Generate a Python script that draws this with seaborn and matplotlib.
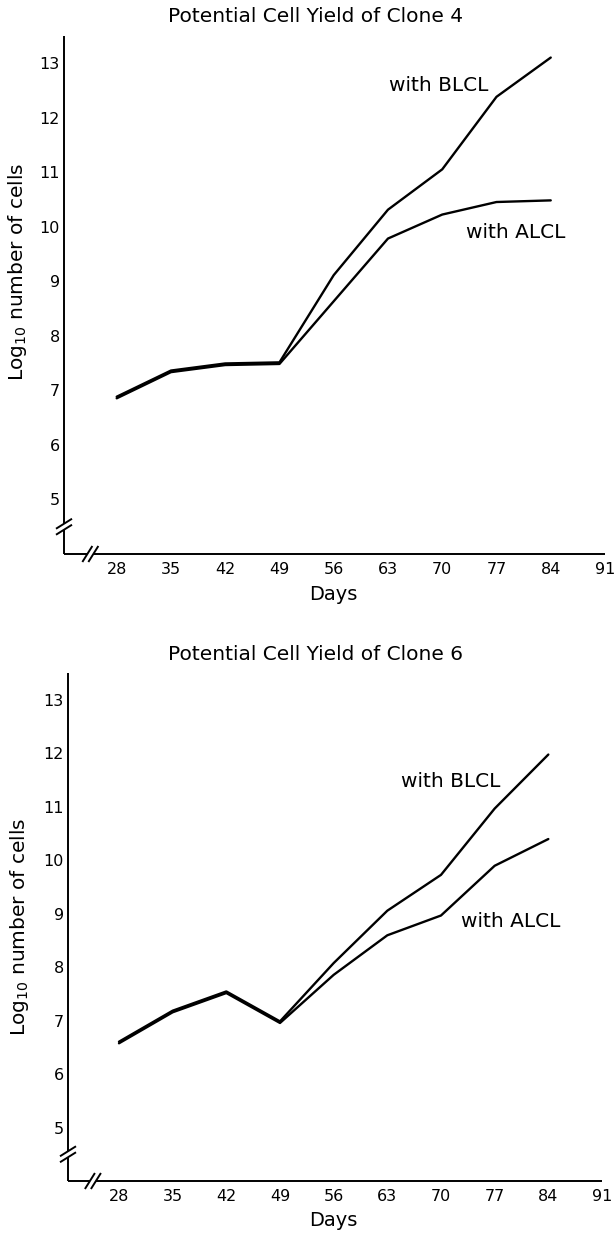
import matplotlib
matplotlib.use("Agg")
import matplotlib.pyplot as plt
import matplotlib.transforms as mtransforms
import seaborn as sns
import pandas as pd

# ---- data ----
days = [28, 35, 42, 49, 56, 63, 70, 77, 84]
clone4_blcl = [6.87, 7.35, 7.48, 7.50, 9.10, 10.30, 11.04, 12.37, 13.09]
clone4_alcl = [6.87, 7.35, 7.48, 7.50, 8.65, 9.80, 10.24, 10.47, 10.50]
clone6_blcl = [6.59, 7.17, 7.53, 6.97, 8.06, 9.04, 9.71, 10.95, 11.96]
clone6_alcl = [6.59, 7.17, 7.53, 6.97, 7.87, 8.61, 8.98, 9.91, 10.41]
series_names = ["with BLCL", "with ALCL"]
titles = ["Potential Cell Yield of Clone 4", "Potential Cell Yield of Clone 6"]
x_ticks = [28, 35, 42, 49, 56, 63, 70, 77, 84, 91]
y_ticks = [5, 6, 7, 8, 9, 10, 11, 12, 13]

sns.set_theme(style="white")
plt.rcParams['font.family'] = ['DejaVu Sans']
plt.rcParams['text.color'] = 'black'
plt.rcParams['xtick.color'] = 'black'
plt.rcParams['ytick.color'] = 'black'

W_PX, H_PX = 615, 1233
fig = plt.figure(figsize=(W_PX / 100, H_PX / 100), dpi=100)


def add_axes_px(left, right, top, bottom):
    return fig.add_axes([left / W_PX, 1 - bottom / H_PX,
                         (right - left) / W_PX, (bottom - top) / H_PX])


panels = [
    dict(box=(64, 605, 36, 554), xlo=21.2, blcl=clone4_blcl, alcl=clone4_alcl,
         title_y=16, lab_b=(63.1, 12.6), lab_a=(73.1, 9.9), ylab_y=0.545,
         ylab_x=18),
    dict(box=(68, 602, 673, 1181), xlo=21.35, blcl=clone6_blcl, alcl=clone6_alcl,
         title_y=654, lab_b=(64.8, 11.47), lab_a=(72.6, 8.85), ylab_y=0.50,
         ylab_x=20),
]

FS = 14.5
for i, p in enumerate(panels):
    ax = add_axes_px(*p["box"])
    df = pd.DataFrame({
        "Days": days * 2,
        "value": p["blcl"] + p["alcl"],
        "series": [series_names[0]] * len(days) + [series_names[1]] * len(days),
    })
    sns.lineplot(data=df, x="Days", y="value", hue="series",
                 palette=["black", "black"], linewidth=1.7, legend=False,
                 ax=ax, sort=False)
    # slight offsets so coincident parts look heavier, as in the original
    for ln, dy in zip(ax.lines, [0.8, -0.8]):
        ln.set_transform(mtransforms.offset_copy(ax.transData, fig=fig,
                                                 x=0, y=dy, units='dots'))
        ln.set_solid_joinstyle('round')
        ln.set_solid_capstyle('round')

    ax.set_xlim(p["xlo"], 91)
    ax.set_ylim(4.0, 13.5)
    ax.set_xticks(x_ticks)
    ax.set_yticks(y_ticks)
    ax.tick_params(axis='both', direction='in', length=8, width=1.2,
                   labelsize=11.5, colors='black')
    ax.tick_params(axis='x', pad=6)
    ax.tick_params(axis='y', pad=3, length=8)
    ax.set_xlabel("")
    ax.set_ylabel("")
    for s in ax.spines.values():
        s.set_visible(False)

    # axis lines with breaks
    Wa, Ha = ax.bbox.width, ax.bbox.height
    lw = 1.4
    yb = (4.5 - 4.0) / 9.5
    xb = (24.6 - p["xlo"]) / (91 - p["xlo"])
    gy = 3.0 / Ha
    gx = 3.0 / Wa
    kw = dict(transform=ax.transAxes, color='black', lw=lw, clip_on=False,
              solid_capstyle='butt')
    ax.plot([0, 0], [1, yb + gy], **kw)
    ax.plot([0, 0], [yb - gy, 0], **kw)
    ax.plot([0, xb - gx], [0, 0], **kw)
    ax.plot([xb + gx, 1], [0, 0], **kw)
    for c in (yb - gy, yb + gy):
        ax.plot([-8 / Wa, 8 / Wa], [c - 5 / Ha, c + 5 / Ha], **kw)
    for c in (xb - gx, xb + gx):
        ax.plot([c - 5 / Wa, c + 5 / Wa], [-8 / Ha, 8 / Ha], **kw)

    # labels
    ax.text(*p["lab_b"], series_names[0], fontsize=FS, ha='left', va='center')
    ax.text(*p["lab_a"], series_names[1], fontsize=FS, ha='left', va='center')
    fig.text(316 / W_PX, 1 - p["title_y"] / H_PX, titles[i], fontsize=FS,
             ha='center', va='center')
    trans = mtransforms.blended_transform_factory(ax.transData, ax.transAxes)
    ax.text(56, -40 / Ha, "Days", transform=trans, fontsize=14,
            ha='center', va='center')
    ax.text((p["ylab_x"] - p["box"][0]) / Wa, p["ylab_y"],
            r"Log$_{10}$ number of cells", transform=ax.transAxes,
            rotation=90, fontsize=FS, ha='center', va='center')

fig.savefig("out.png", dpi=100)
